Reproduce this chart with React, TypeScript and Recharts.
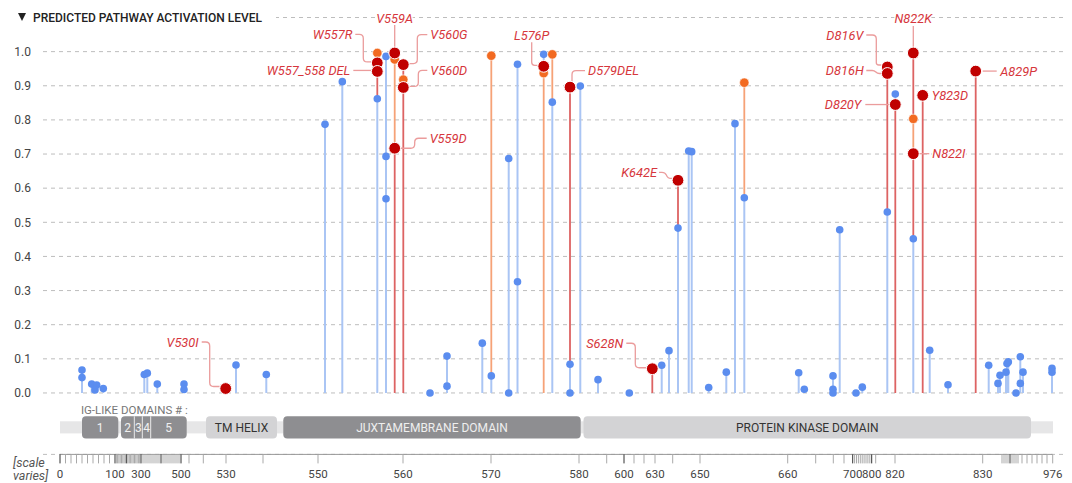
import React from "react";
import {
  CartesianGrid,
  ComposedChart,
  ErrorBar,
  ReferenceArea,
  ReferenceLine,
  Scatter,
  XAxis,
  YAxis,
} from "recharts";

// positions are on the display axis (its scale varies by region)
type Dot = { pos: number; value: number; label?: string };

const blueDots: Dot[] = [
  { pos: 22, value: 0.067 }, { pos: 22, value: 0.045 },
  { pos: 31.7, value: 0.026 }, { pos: 36.7, value: 0.023 },
  { pos: 35, value: 0.009 }, { pos: 43.3, value: 0.013 },
  { pos: 84.3, value: 0.054 }, { pos: 87.3, value: 0.058 },
  { pos: 97.3, value: 0.026 },
  { pos: 124, value: 0.026 }, { pos: 124, value: 0.01 },
  { pos: 176, value: 0.082 }, { pos: 206.3, value: 0.054 },
  { pos: 265, value: 0.787 }, { pos: 282.3, value: 0.912 },
  { pos: 317.3, value: 0.862 },
  { pos: 326, value: 0.986 }, { pos: 326, value: 0.693 }, { pos: 326, value: 0.569 },
  { pos: 370, value: 0.0 },
  { pos: 387, value: 0.108 }, { pos: 387, value: 0.02 },
  { pos: 422.3, value: 0.146 }, { pos: 431.3, value: 0.05 },
  { pos: 448.7, value: 0.687 }, { pos: 448.7, value: 0.0 },
  { pos: 457.5, value: 0.963 }, { pos: 457.5, value: 0.326 },
  { pos: 483.7, value: 0.992 }, { pos: 492.3, value: 0.852 },
  { pos: 510, value: 0.084 }, { pos: 510, value: 0.0 },
  { pos: 520.3, value: 0.899 },
  { pos: 538, value: 0.039 }, { pos: 569.3, value: 0.0 },
  { pos: 601.7, value: 0.081 }, { pos: 609, value: 0.124 },
  { pos: 618, value: 0.483 },
  { pos: 628.7, value: 0.709 }, { pos: 631.7, value: 0.707 },
  { pos: 648.7, value: 0.016 }, { pos: 666.3, value: 0.061 },
  { pos: 675, value: 0.789 }, { pos: 684.3, value: 0.572 },
  { pos: 738.7, value: 0.059 }, { pos: 744.3, value: 0.011 },
  { pos: 773, value: 0.05 }, { pos: 773, value: 0.011 }, { pos: 773, value: 0.0 },
  { pos: 779.7, value: 0.478 },
  { pos: 796, value: 0.0 }, { pos: 802.3, value: 0.017 },
  { pos: 827.3, value: 0.53 }, { pos: 835.3, value: 0.876 },
  { pos: 853.3, value: 0.452 }, { pos: 869.7, value: 0.125 },
  { pos: 888, value: 0.024 }, { pos: 928.7, value: 0.081 },
  { pos: 938, value: 0.028 }, { pos: 940, value: 0.052 },
  { pos: 946, value: 0.061 }, { pos: 947, value: 0.086 }, { pos: 948.3, value: 0.091 },
  { pos: 956, value: 0.0 },
  { pos: 960.3, value: 0.106 }, { pos: 960.3, value: 0.028 },
  { pos: 963, value: 0.061 },
  { pos: 992, value: 0.072 }, { pos: 992, value: 0.061 },
];

const orangeDots: Dot[] = [
  { pos: 317.3, value: 0.996 },
  { pos: 334.7, value: 0.977 },
  { pos: 343.3, value: 0.918 },
  { pos: 431.3, value: 0.988 },
  { pos: 483.7, value: 0.937 },
  { pos: 492.3, value: 0.992 },
  { pos: 684.3, value: 0.909 },
  { pos: 853.3, value: 0.803 },
];

const redDots: Dot[] = [
  { pos: 165.7, value: 0.013, label: "V530I" },
  { pos: 317.3, value: 0.967, label: "W557R" },
  { pos: 317.3, value: 0.942, label: "W557_558 DEL" },
  { pos: 334.7, value: 0.996, label: "V559A" },
  { pos: 334.7, value: 0.717, label: "V559D" },
  { pos: 343.3, value: 0.962, label: "V560G" },
  { pos: 343.3, value: 0.895, label: "V560D" },
  { pos: 483.7, value: 0.957, label: "L576P" },
  { pos: 510, value: 0.896, label: "D579DEL" },
  { pos: 592.3, value: 0.071, label: "S628N" },
  { pos: 618, value: 0.623, label: "K642E" },
  { pos: 827.3, value: 0.955, label: "D816V" },
  { pos: 827.3, value: 0.936, label: "D816H" },
  { pos: 835.3, value: 0.845, label: "D820Y" },
  { pos: 853.3, value: 0.996, label: "N822K" },
  { pos: 853.3, value: 0.701, label: "N822I" },
  { pos: 862.7, value: 0.872, label: "Y823D" },
  { pos: 915.7, value: 0.943, label: "A829P" },
];

const axisLabels = [
  { pos: 0, label: "0" }, { pos: 55, label: "100" }, { pos: 81, label: "300" },
  { pos: 121, label: "500" }, { pos: 166, label: "530" }, { pos: 258, label: "550" },
  { pos: 343, label: "560" }, { pos: 431, label: "570" }, { pos: 519, label: "580" },
  { pos: 564, label: "600" }, { pos: 595, label: "630" }, { pos: 640, label: "650" },
  { pos: 727.7, label: "660" }, { pos: 792.7, label: "700" }, { pos: 811.7, label: "800" },
  { pos: 835, label: "820" }, { pos: 922.7, label: "830" }, { pos: 992.7, label: "976" },
];

const minorTicks = [
  5.5, 11, 16.5, 22, 27.5, 33, 38.5, 44, 49.5,
  56.3, 57.6, 58.9, 60.2, 61.5, 62.8, 64.1, 65.4, 66.7, 68, 69.3, 70.6, 71.9,
  73.2, 74.5, 75.8, 77.1, 78.4, 79.7,
  83, 85, 87, 89, 91, 93, 95, 97, 99, 101, 103, 105, 107, 109, 111, 113, 115, 117, 119,
  129, 143.3, 203,
  546.7, 574, 584, 612.7,
  755.7, 773.3, 784,
  794.6, 796.5, 798.4, 800.3, 802.2, 804.1, 806, 807.9, 809.8,
  815.7,
  942, 944, 946, 948, 950, 952, 954, 956, 958, 962, 967, 972, 977, 982, 987,
];

const darkTicks = [0, 55, 66.7, 81, 101, 121, 564, 792.7, 811.7, 950];

const yTicks = [0, 0.1, 0.2, 0.3, 0.4, 0.5, 0.6, 0.7, 0.8, 0.9, 1.0, 1.1];

const proteinSpan = { start: 0, end: 993 };

const igDomains = [
  { name: "1", start: 22, end: 58.3 },
  { name: "2", start: 61, end: 74.3 },
  { name: "3", start: 74.3, end: 82.3 },
  { name: "4", start: 82.3, end: 90.7 },
  { name: "5", start: 90.7, end: 126.7 },
];

const domains = [
  { name: "TM HELIX", start: 146, end: 217 },
  { name: "JUXTAMEMBRANE DOMAIN", start: 223.3, end: 520.7 },
  { name: "PROTEIN KINASE DOMAIN", start: 523.5, end: 971 },
];

const BLUE = "#5b8def";
const BLUE_STEM = "#aac5f4";
const ORANGE = "#f26a21";
const ORANGE_STEM = "#f6a277";
const RED = "#c00000";
const RED_STEM = "#dd6363";
const LABEL_RED = "#d6363c";
const LEADER = "#eb9c9c";
const DARK_DOMAIN = "#8e8e91";
const LIGHT_DOMAIN = "#d3d3d5";

const domainTone: Record<string, string> = {
  "TM HELIX": LIGHT_DOMAIN,
  "JUXTAMEMBRANE DOMAIN": DARK_DOMAIN,
  "PROTEIN KINASE DOMAIN": LIGHT_DOMAIN,
};

// vertical placement of the domain strip, in value units below zero
const BAR_TOP = -0.0685;
const BAR_BOTTOM = -0.1335;
const TRACK_TOP = -0.083;
const TRACK_BOTTOM = -0.1185;
const AXIS_FLOOR = -0.18;

type Placement = {
  tx: number;
  ty: number;
  anchor: "start" | "middle" | "end";
  leader: [number, number][];
};

const labelPlacement: Record<string, Placement> = {
  V530I: { tx: -27, ty: -46.5, anchor: "end", leader: [[-24, -46.5], [-16, -46.5], [-16, -2], [-6, -2]] },
  W557R: { tx: -25, ty: -28.5, anchor: "end", leader: [[-22, -28.5], [-14, -28.5], [-14, -1], [-6, -1]] },
  "W557_558 DEL": { tx: -27, ty: -1, anchor: "end", leader: [[-24, -1], [-6, -1]] },
  V559A: { tx: 0, ty: -35, anchor: "middle", leader: [[0, -28], [0, -6]] },
  V559D: { tx: 35, ty: -10, anchor: "start", leader: [[32, -10], [20, -10], [20, 0], [6, 0]] },
  V560G: { tx: 27, ty: -30, anchor: "start", leader: [[24, -30], [14, -30], [14, -1], [6, -1]] },
  V560D: { tx: 27, ty: -17, anchor: "start", leader: [[24, -17], [15, -17], [15, -1], [6, -1]] },
  L576P: { tx: -12, ty: -31, anchor: "middle", leader: [[-12, -24], [-12, -1], [-6, -1]] },
  D579DEL: { tx: 18, ty: -16.5, anchor: "start", leader: [[15, -16.5], [2, -16.5], [2, -6]] },
  S628N: { tx: -29, ty: -25.5, anchor: "end", leader: [[-26, -25.5], [-17, -25.5], [-17, -1], [-6, -1]] },
  K642E: { tx: -21, ty: -8, anchor: "end", leader: [[-19, -8], [-13, -8], [-10, -2], [-6, -2]] },
  D816V: { tx: -24, ty: -32, anchor: "end", leader: [[-21, -32], [-11, -32], [-11, -2], [-6, -2]] },
  D816H: { tx: -23.5, ty: -3, anchor: "end", leader: [[-21, -3], [-13, -3], [-10, 0], [-6, 0]] },
  D820Y: { tx: -34, ty: 0, anchor: "end", leader: [[-30, 0], [-6, 0]] },
  N822K: { tx: 0, ty: -34.5, anchor: "middle", leader: [[0, -27], [0, -6]] },
  N822I: { tx: 19, ty: 0, anchor: "start", leader: [[6, 0], [16, 0]] },
  Y823D: { tx: 9, ty: 0, anchor: "start", leader: [] },
  A829P: { tx: 24.5, ty: 0, anchor: "start", leader: [[7, 0], [21, 0]] },
};

const allDots = [...blueDots, ...orangeDots, ...redDots];

// each stem runs from its dot down to the next dot on the same position
const withStem = (list: Dot[]) =>
  list.map((d) => {
    const below = allDots
      .filter((o) => o.pos === d.pos && o.value < d.value)
      .reduce((m, o) => Math.max(m, o.value), 0);
    return { ...d, stem: [d.value - below, 0] };
  });

const blueStems = withStem(blueDots);
const orangeStems = withStem(orangeDots);
const redStems = withStem(redDots);

const xTicks = [...axisLabels.map((t) => t.pos), ...minorTicks].sort((a, b) => a - b);

function roundedPath(pts: [number, number][], r = 4) {
  if (pts.length === 0) return "";
  let d = `M${pts[0][0]},${pts[0][1]}`;
  for (let i = 1; i < pts.length - 1; i++) {
    const [x0, y0] = pts[i - 1];
    const [x1, y1] = pts[i];
    const [x2, y2] = pts[i + 1];
    const d1 = Math.hypot(x1 - x0, y1 - y0) || 1;
    const d2 = Math.hypot(x2 - x1, y2 - y1) || 1;
    const rr = Math.min(r, d1 / 2, d2 / 2);
    const ax = x1 + ((x0 - x1) / d1) * rr;
    const ay = y1 + ((y0 - y1) / d1) * rr;
    const bx = x1 + ((x2 - x1) / d2) * rr;
    const by = y1 + ((y2 - y1) / d2) * rr;
    d += ` L${ax},${ay} Q${x1},${y1} ${bx},${by}`;
  }
  const last = pts[pts.length - 1];
  d += ` L${last[0]},${last[1]}`;
  return d;
}

function boxPath(x: number, y: number, w: number, h: number, rl: number, rr: number) {
  return (
    `M${x + rl},${y} H${x + w - rr} Q${x + w},${y} ${x + w},${y + rr} V${y + h - rr} ` +
    `Q${x + w},${y + h} ${x + w - rr},${y + h} H${x + rl} Q${x},${y + h} ${x},${y + h - rl} ` +
    `V${y + rl} Q${x},${y} ${x + rl},${y} Z`
  );
}

const noDot = () => <g />;

const BlueDot = (p: any) => <circle cx={p.cx} cy={p.cy} r={3.8} fill={BLUE} />;
const OrangeDot = (p: any) => (
  <circle cx={p.cx} cy={p.cy} r={4.7} fill={ORANGE} stroke="#fff" strokeWidth={0.6} />
);

const RedDot = (p: any) => {
  const { cx, cy, payload } = p;
  const place = labelPlacement[payload.label];
  return (
    <g>
      {place && place.leader.length > 0 && (
        <path
          d={roundedPath(place.leader.map(([dx, dy]) => [cx + dx, cy + dy] as [number, number]))}
          fill="none"
          stroke={LEADER}
          strokeWidth={1.3}
        />
      )}
      <circle cx={cx} cy={cy} r={5.9} fill={RED} stroke="#fff" strokeWidth={1} />
      {place && (
        <text
          x={cx + place.tx}
          y={cy + place.ty}
          dy="0.36em"
          textAnchor={place.anchor}
          fontSize={12.8}
          fontStyle="italic"
          fill={LABEL_RED}
          stroke="#fff"
          strokeWidth={3}
          paintOrder="stroke"
        >
          {payload.label}
        </text>
      )}
    </g>
  );
};

const XTick = (p: any) => {
  const { x, y, payload } = p;
  const v = payload.value;
  const lab = axisLabels.find((t) => Math.abs(t.pos - v) < 0.01);
  const dark = darkTicks.some((t) => Math.abs(t - v) < 0.01);
  return (
    <g>
      <line x1={x} x2={x} y1={y} y2={y + 9} stroke={dark ? "#333" : "#a9a9a9"} strokeWidth={1} />
      {lab && (
        <text x={x} y={y + 24} textAnchor="middle" fontSize={11.5} fill="#444">
          {lab.label}
        </text>
      )}
    </g>
  );
};

const igShape = (i: number) => (p: any) => {
  const prev = igDomains[i - 1];
  const next = igDomains[i + 1];
  const joinL = prev && Math.abs(prev.end - igDomains[i].start) < 0.5;
  const joinR = next && Math.abs(next.start - igDomains[i].end) < 0.5;
  return (
    <g>
      <path d={boxPath(p.x, p.y, p.width, p.height, joinL ? 0 : 4, joinR ? 0 : 4)} fill={DARK_DOMAIN} />
      {joinL && <line x1={p.x} x2={p.x} y1={p.y} y2={p.y + p.height} stroke="#e6e6e6" strokeWidth={1} />}
    </g>
  );
};

export default function App() {
  return (
    <div style={{ position: "relative", width: 1064, height: 475, fontFamily: "Roboto, sans-serif" }}>
      <ComposedChart width={1064} height={475} margin={{ top: 9.5, right: 6, bottom: 0, left: 0 }}>
        <CartesianGrid vertical={false} stroke="#bdbdbd" strokeDasharray="4 4" />
        <XAxis
          type="number"
          dataKey="pos"
          domain={[-17, 1006]}
          ticks={xTicks}
          interval={0}
          tick={<XTick />}
          tickSize={0}
          tickMargin={0}
          tickLine={false}
          axisLine={false}
          height={28.6}
        />
        <YAxis
          type="number"
          dataKey="value"
          domain={[AXIS_FLOOR, 1.1]}
          ticks={yTicks}
          interval={0}
          tickFormatter={(v: number) => (v > 1.05 ? "" : v.toFixed(1))}
          tick={{ fill: "#444", fontSize: 12 }}
          tickSize={0}
          tickMargin={12}
          tickLine={false}
          axisLine={false}
          width={35}
        />

        <ReferenceArea
          x1={proteinSpan.start}
          x2={proteinSpan.end}
          y1={TRACK_BOTTOM}
          y2={TRACK_TOP}
          shape={(p: any) => <rect x={p.x} y={p.y} width={p.width} height={p.height} fill="#e6e6e7" />}
        />
        <ReferenceArea
          x1={igDomains[0].start}
          x2={igDomains[igDomains.length - 1].end}
          y1={BAR_BOTTOM}
          y2={BAR_TOP}
          shape={() => <g />}
          label={{ value: "IG-LIKE DOMAINS # :", position: "top", offset: 2, fill: "#777", fontSize: 11.5 }}
        />
        {igDomains.map((d, i) => (
          <ReferenceArea
            key={d.name}
            x1={d.start}
            x2={d.end}
            y1={BAR_BOTTOM}
            y2={BAR_TOP}
            shape={igShape(i)}
            label={{ value: d.name, position: "center", fill: "#f0f0f0", fontSize: 12 }}
          />
        ))}
        {domains.map((d) => (
          <ReferenceArea
            key={d.name}
            x1={d.start}
            x2={d.end}
            y1={BAR_BOTTOM}
            y2={BAR_TOP}
            shape={(p: any) => (
              <rect x={p.x} y={p.y} width={p.width} height={p.height} rx={4} fill={domainTone[d.name]} />
            )}
            label={{
              value: d.name,
              position: "center",
              fill: domainTone[d.name] === DARK_DOMAIN ? "#efefef" : "#333",
              fontSize: 12,
            }}
          />
        ))}
        <ReferenceLine
          segment={[
            { x: axisLabels[0].pos, y: AXIS_FLOOR },
            { x: axisLabels[axisLabels.length - 1].pos, y: AXIS_FLOOR },
          ]}
          stroke="#999"
          strokeWidth={1}
          ifOverflow="visible"
        />

        <Scatter data={blueStems} shape={noDot} isAnimationActive={false}>
          <ErrorBar dataKey="stem" direction="y" width={0} stroke={BLUE_STEM} strokeWidth={2} isAnimationActive={false} />
        </Scatter>
        <Scatter data={orangeStems} shape={noDot} isAnimationActive={false}>
          <ErrorBar dataKey="stem" direction="y" width={0} stroke={ORANGE_STEM} strokeWidth={1.8} isAnimationActive={false} />
        </Scatter>
        <Scatter data={redStems} shape={noDot} isAnimationActive={false}>
          <ErrorBar dataKey="stem" direction="y" width={0} stroke={RED_STEM} strokeWidth={1.8} isAnimationActive={false} />
        </Scatter>

        <Scatter data={blueDots} shape={BlueDot} isAnimationActive={false} />
        <Scatter data={orangeDots} shape={OrangeDot} isAnimationActive={false} />
        <Scatter data={redDots} shape={RedDot} isAnimationActive={false} />
      </ComposedChart>

      <svg
        width={1064}
        height={475}
        style={{ position: "absolute", left: 0, top: 0, pointerEvents: "none" }}
      >
        <rect x={30} y={0} width={238} height={18} fill="#fff" />
        <polygon points="10,5 18,5 14,13" fill="#222" />
        <text
          x={25}
          y={13.6}
          fontSize={13}
          fontWeight={500}
          fill="#222"
          textLength={229}
          lengthAdjust="spacingAndGlyphs"
        >
          PREDICTED PATHWAY ACTIVATION LEVEL
        </text>
        <text x={5} y={458.5} fontSize={12.5} fontStyle="italic" fill="#555">
          [scale
        </text>
        <text x={5} y={471.5} fontSize={12.5} fontStyle="italic" fill="#555">
          varies]
        </text>
      </svg>
    </div>
  );
}
